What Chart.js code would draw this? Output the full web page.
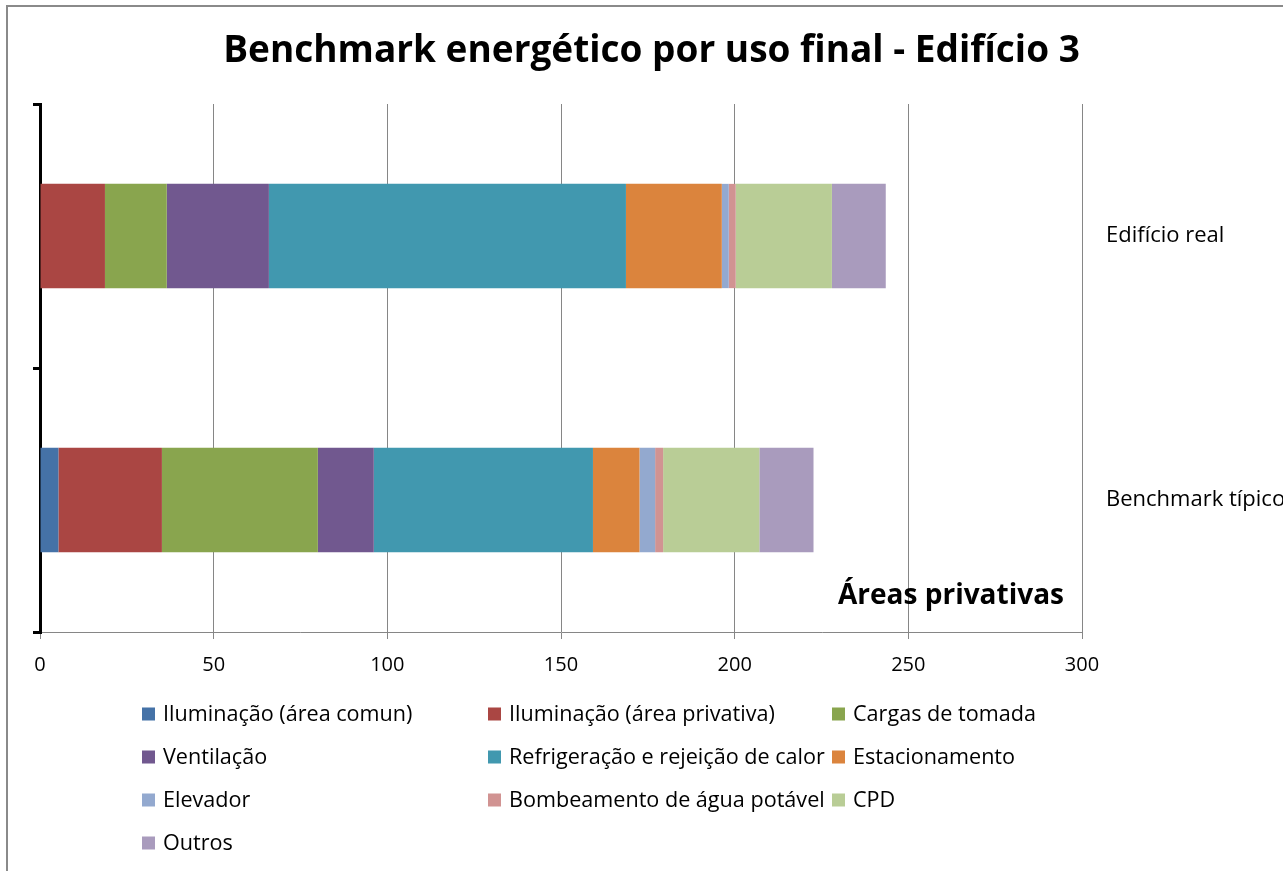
<!doctype html>
<html lang="pt">

<head>
    <meta charset="utf-8">
    <title>Benchmark energético por uso final - Edifício 3</title>
    <style>
        body { margin: 0; background: #fff; }
        #wrap { position: relative; width: 1283px; height: 871px; overflow: hidden; }
        #frame { position: absolute; left: 6px; top: 5px; width: 2000px; height: 2000px;
                 border-left: 2px solid #8a8a8a; border-top: 2px solid #8a8a8a; pointer-events: none; }
    </style>
</head>

<body>
    <div id="wrap">
        <canvas id="myChart" width="1283" height="871"></canvas>
        <div id="frame"></div>
    </div>

    <script src="https://cdn.jsdelivr.net/npm/chart.js@4.4.0/dist/chart.umd.min.js"></script>
    <script>
        const categories = ['Edifício real', 'Benchmark típico'];

        // values per category: [Edifício real, Benchmark típico]
        const iluminacaoComum = [0, 5.3];
        const iluminacaoPrivativa = [18.7, 29.8];
        const cargasTomada = [17.8, 44.9];
        const ventilacao = [29.4, 16.1];
        const refrigeracao = [102.8, 63.1];
        const estacionamento = [27.6, 13.4];
        const elevador = [2.0, 4.5];
        const bombeamento = [2.0, 2.3];
        const cpd = [27.7, 27.7];
        const outros = [15.5, 15.6];

        const xTicks = [0, 50, 100, 150, 200, 250, 300];

        const series = [
            ['Iluminação (área comun)', iluminacaoComum, '#4572A7'],
            ['Iluminação (área privativa)', iluminacaoPrivativa, '#AA4643'],
            ['Cargas de tomada', cargasTomada, '#89A54E'],
            ['Ventilação', ventilacao, '#71588F'],
            ['Refrigeração e rejeição de calor', refrigeracao, '#4198AF'],
            ['Estacionamento', estacionamento, '#DB843D'],
            ['Elevador', elevador, '#93A9CF'],
            ['Bombeamento de água potável', bombeamento, '#D19392'],
            ['CPD', cpd, '#B9CD96'],
            ['Outros', outros, '#A99BBD'],
        ];

        Chart.defaults.font.family = '"Open Sans"';
        Chart.defaults.color = '#000';

        // legend in a fixed 3-column grid under the chart
        const gridLegend = {
            id: 'gridLegend',
            afterDraw(chart) {
                const ctx = chart.ctx;
                const cols = [142, 488, 832];
                ctx.save();
                ctx.font = '21.6px "Open Sans"';
                ctx.textBaseline = 'middle';
                ctx.textAlign = 'left';
                chart.data.datasets.forEach((ds, i) => {
                    const x = cols[i % 3];
                    const y = 714 + 43 * Math.floor(i / 3);
                    ctx.fillStyle = ds.backgroundColor;
                    ctx.fillRect(x, y - 6.5, 13, 13);
                    ctx.fillStyle = '#000';
                    ctx.fillText(ds.label, x + 21, y + 1);
                });
                ctx.restore();
            }
        };

        const areaLabel = {
            id: 'areaLabel',
            afterDraw(chart) {
                const ctx = chart.ctx;
                ctx.save();
                ctx.font = 'bold 28px "Open Sans"';
                ctx.textAlign = 'center';
                ctx.textBaseline = 'alphabetic';
                ctx.fillStyle = '#000';
                ctx.fillText('Áreas privativas', 951, 604);
                ctx.restore();
            }
        };

        const data = {
            labels: categories,
            datasets: series.map(s => ({
                label: s[0],
                data: s[1],
                backgroundColor: s[2],
                borderWidth: 0,
                categoryPercentage: 1,
                barPercentage: 0.395,
                yAxisID: 'y',
            }))
        };

        const config = {
            type: 'bar',
            data: data,
            plugins: [gridLegend, areaLabel],
            options: {
                indexAxis: 'y',
                responsive: false,
                animation: false,
                layout: { padding: { left: 20, right: 0, top: 0, bottom: 179 } },
                plugins: {
                    legend: { display: false },
                    tooltip: { enabled: false },
                    title: {
                        display: true,
                        text: 'Benchmark energético por uso final - Edifício 3',
                        font: { size: 37, weight: 'bold' },
                        color: '#000',
                        padding: { top: 29, bottom: 30.6 }
                    }
                },
                scales: {
                    x: {
                        stacked: true,
                        min: 0,
                        max: 300,
                        afterBuildTicks: scale => { scale.ticks = xTicks.map(v => ({ value: v })); },
                        afterFit: scale => { scale.height = 60; },
                        grid: { color: '#868686', tickLength: 7 },
                        border: { color: '#868686' },
                        ticks: { font: { size: 20 }, padding: 14, color: '#000' }
                    },
                    y: {
                        stacked: true,
                        position: 'left',
                        offset: true,
                        afterFit: scale => { scale.width = 20; },
                        grid: { offset: true, drawOnChartArea: false, tickLength: 7, tickColor: '#000', tickWidth: 3, lineWidth: 3 },
                        border: { color: '#000', width: 3 },
                        ticks: { display: false }
                    },
                    y2: {
                        type: 'category',
                        axis: 'y',
                        labels: categories,
                        position: 'right',
                        offset: true,
                        afterFit: scale => { scale.width = 201; },
                        grid: { display: false, drawTicks: false },
                        border: { display: false },
                        ticks: { font: { size: 22 }, padding: 24, color: '#000' }
                    }
                }
            }
        };

        new Chart(document.getElementById('myChart'), config);
    </script>
</body>

</html>
